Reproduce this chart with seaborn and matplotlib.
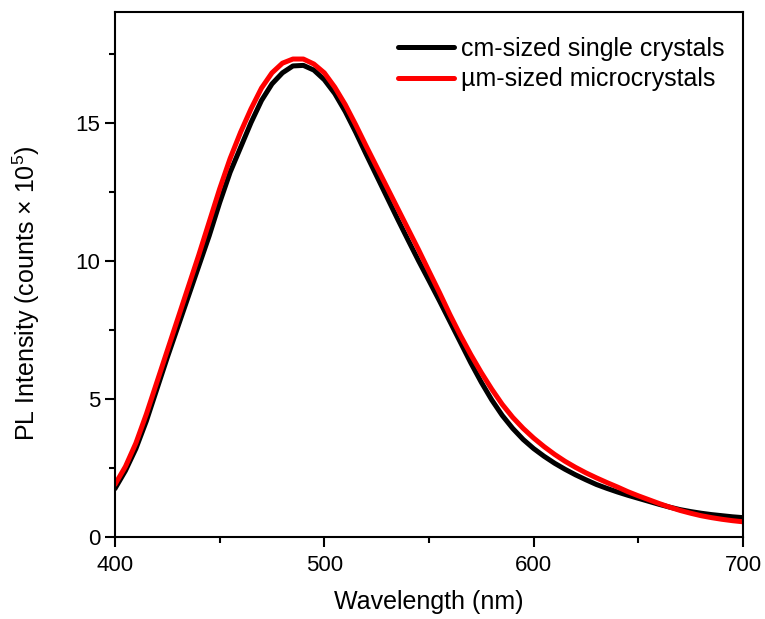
import pandas as pd
import seaborn as sns
import matplotlib
matplotlib.use('Agg')
import matplotlib.pyplot as plt
from matplotlib.ticker import MultipleLocator

# wavelength grid (nm), 5 nm steps
wavelength = list(range(400, 701, 5))

# PL intensity, counts x 10^5
cm_crystals = [1.75, 2.4, 3.2, 4.2, 5.35, 6.5, 7.6, 8.7, 9.8, 10.9,
               12.1, 13.2, 14.1, 15.0, 15.8, 16.4, 16.8, 17.05, 17.07, 16.9,
               16.55, 16.05, 15.4, 14.65, 13.85, 13.07, 12.29, 11.51, 10.75, 10.0,
               9.28, 8.55, 7.8, 7.05, 6.3, 5.6, 4.96, 4.4, 3.93, 3.53,
               3.2, 2.92, 2.67, 2.45, 2.25, 2.07, 1.9, 1.76, 1.63, 1.51,
               1.4, 1.29, 1.18, 1.08, 0.99, 0.92, 0.86, 0.81, 0.77, 0.73,
               0.70]
um_crystals = [1.9, 2.55, 3.4, 4.45, 5.6, 6.75, 7.9, 9.05, 10.2, 11.4,
               12.6, 13.7, 14.65, 15.5, 16.25, 16.8, 17.15, 17.3, 17.3, 17.12,
               16.8, 16.28, 15.65, 14.92, 14.15, 13.4, 12.65, 11.9, 11.15, 10.4,
               9.62, 8.85, 8.05, 7.3, 6.6, 5.95, 5.35, 4.8, 4.33, 3.93,
               3.58, 3.27, 2.99, 2.74, 2.52, 2.32, 2.14, 1.97, 1.81, 1.64,
               1.49, 1.35, 1.21, 1.08, 0.96, 0.86, 0.77, 0.7, 0.64, 0.59,
               0.55]

labels = ['cm-sized single crystals', '\u00b5m-sized microcrystals']

df = pd.concat([
    pd.DataFrame({'Wavelength': wavelength, 'PL': cm_crystals, 'Sample': labels[0]}),
    pd.DataFrame({'Wavelength': wavelength, 'PL': um_crystals, 'Sample': labels[1]}),
])

sns.set_theme(style='ticks')
plt.rcParams['font.family'] = ['Liberation Sans', 'DejaVu Sans']
plt.rcParams['mathtext.fontset'] = 'custom'
plt.rcParams['mathtext.rm'] = 'Liberation Sans'
plt.rcParams['text.color'] = 'black'
plt.rcParams['axes.labelcolor'] = 'black'

fig = plt.figure(figsize=(7.65, 6.19), dpi=100)
ax = fig.add_axes([0.1503, 0.1325, 0.8209, 0.848])

sns.lineplot(data=df, x='Wavelength', y='PL', hue='Sample',
             palette=['black', '#ff0000'], linewidth=3.6, ax=ax, sort=False)

ax.set_xlim(400, 700)
ax.set_ylim(0, 19)
ax.xaxis.set_major_locator(MultipleLocator(100))
ax.xaxis.set_minor_locator(MultipleLocator(50))
ax.yaxis.set_major_locator(MultipleLocator(5))
ax.yaxis.set_minor_locator(MultipleLocator(2.5))
ax.tick_params(which='major', length=7, width=1.5, labelsize=16, direction='out',
               top=False, right=False, color='black', labelcolor='black')
ax.tick_params(axis='x', which='major', pad=6)
ax.tick_params(which='minor', length=4, width=1.5, direction='out',
               top=False, right=False, color='black')
for s in ax.spines.values():
    s.set_linewidth(1.5)
    s.set_color('black')

ax.set_xlabel('Wavelength (nm)', fontsize=18, labelpad=10)
ax.set_ylabel('PL Intensity (counts \u00d7 10$^5$)', fontsize=18)
ax.yaxis.set_label_coords(-0.116, 0.465)

leg = ax.legend(loc='upper right', bbox_to_anchor=(0.987, 0.972), borderaxespad=0,
                frameon=False, fontsize=18, handlelength=2.25,
                handletextpad=0.28, labelspacing=0.26)
for line in leg.get_lines():
    line.set_linewidth(3.6)

fig.savefig('out.png', dpi=100)
